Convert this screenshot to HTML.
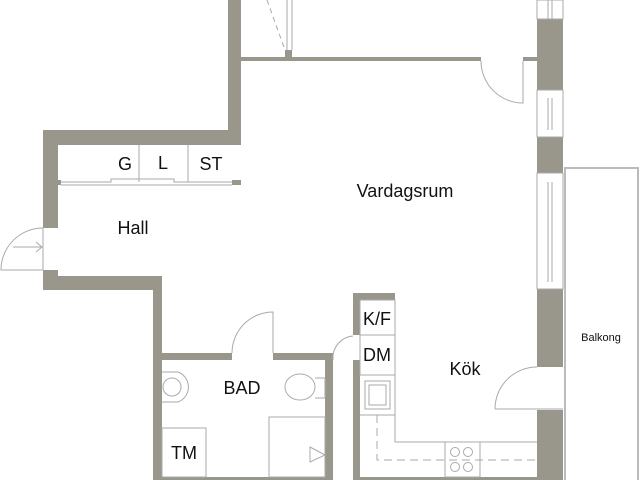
<!DOCTYPE html>
<html><head><meta charset="utf-8"><style>
html,body{margin:0;padding:0;background:#fff;}
svg{display:block;}
text{font-family:"Liberation Sans",sans-serif;fill:#111;}
</style></head><body>
<svg width="640" height="480" viewBox="0 0 640 480" xmlns="http://www.w3.org/2000/svg">
<g fill="#99968b">
<!-- top left vertical wall -->
<rect x="228" y="0" width="13" height="145"/>
<!-- top thin wall -->
<rect x="241" y="57" width="240" height="4"/>
<rect x="523" y="57" width="14" height="4"/>
<rect x="285" y="50" width="7" height="7"/>
<!-- hall upper wall -->
<rect x="43" y="130" width="198" height="15"/>
<rect x="43" y="130" width="15" height="98"/>
<rect x="58" y="180" width="3" height="5"/>
<rect x="232" y="180" width="9" height="5"/>
<!-- hall lower wall -->
<rect x="43" y="270" width="15" height="20"/>
<rect x="43" y="276" width="119" height="14"/>
<rect x="148" y="276" width="14" height="14"/>
<rect x="153" y="276" width="9" height="204"/>
<!-- bath walls -->
<rect x="162" y="353" width="70" height="7"/>
<rect x="273" y="353" width="60" height="7"/>
<rect x="325" y="353" width="8" height="127"/>
<rect x="162" y="477" width="171" height="3"/>
<!-- kitchen walls -->
<rect x="353" y="293" width="42" height="7"/>
<rect x="353" y="293" width="7" height="42"/>
<rect x="353" y="360" width="7" height="120"/>
<rect x="360" y="477" width="177" height="3"/>
<!-- right wall -->
<rect x="537" y="19" width="26" height="71"/>
<rect x="537" y="137" width="26" height="36"/>
<rect x="537" y="289" width="26" height="78"/>
<rect x="537" y="410" width="26" height="70"/>
</g>
<g fill="none" stroke="#aaa" stroke-width="1">
<!-- windows -->
<rect x="537" y="0" width="26" height="19"/>
<line x1="548" y1="0" x2="548" y2="19"/><line x1="552" y1="0" x2="552" y2="19"/>
<rect x="537" y="90" width="26" height="47"/>
<line x1="548" y1="98" x2="548" y2="130"/><line x1="552" y1="98" x2="552" y2="130"/>
<rect x="537" y="173" width="26" height="116"/>
<line x1="548" y1="182" x2="548" y2="282"/><line x1="552" y1="182" x2="552" y2="282"/>
<!-- balcony -->
<rect x="565" y="168" width="73" height="320" stroke="#bbb" stroke-width="2"/>
<!-- top door -->
<line x1="267" y1="0" x2="285" y2="50" stroke-dasharray="5,4"/>
<line x1="287" y1="0" x2="287" y2="50"/><line x1="292" y1="0" x2="292" y2="50"/>
<!-- vardagsrum door -->
<path d="M481 61 A42 42 0 0 0 523 103 L523 61"/>
<!-- closet -->
<line x1="139" y1="145" x2="139" y2="182"/>
<line x1="188" y1="145" x2="188" y2="182"/>
<path d="M61 182 H111 V179 H174 V182 H232"/>
<path d="M61 185 H232"/>
<!-- entrance door -->
<path d="M1 270 A42 42 0 0 1 43 228 L43 270 Z"/>
<path d="M13 247 H42 M36 242 L42 247 L36 252"/>
<!-- bath door -->
<path d="M232 353 A41 41 0 0 1 273 312 L273 353"/>
<!-- kitchen door -->
<path d="M333 360 A22 22 0 0 1 353 336"/>
<!-- balcony door -->
<path d="M495 409 A42 42 0 0 1 537 367 M495 409 H563"/>
<!-- kitchen cabinets -->
<rect x="360" y="300" width="35" height="35"/>
<rect x="360" y="335" width="35" height="40"/>
<path d="M360 415 H395 M395 300 V442 H537"/>
<rect x="365" y="381" width="25" height="28"/>
<rect x="369" y="385" width="17" height="20"/>
<path d="M377 415 V460 H537" stroke-dasharray="8,5"/>
<rect x="445" y="442" width="35" height="35"/>
<circle cx="455" cy="452" r="4.5"/><circle cx="468" cy="452" r="4.5"/>
<circle cx="455" cy="467" r="4.5"/><circle cx="468" cy="467" r="4.5"/>
<!-- bath fixtures -->
<path d="M162 372 H178 A16 16 0 0 1 178 402 H162"/>
<circle cx="172" cy="387" r="9"/>
<ellipse cx="300" cy="387" rx="15" ry="13"/>
<path d="M315 378 H325 V398 H315"/>
<rect x="162" y="428" width="44" height="49"/>
<rect x="269" y="417" width="56" height="60"/>
<path d="M310 447 L325 455 L310 462 Z"/>
</g>
<text x="125" y="170" font-size="18" text-anchor="middle">G</text>
<text x="163" y="169" font-size="18" text-anchor="middle">L</text>
<text x="211" y="170" font-size="18" text-anchor="middle">ST</text>
<text x="133" y="234" font-size="18" text-anchor="middle">Hall</text>
<text x="405" y="197" font-size="18" text-anchor="middle">Vardagsrum</text>
<text x="377" y="325" font-size="18" text-anchor="middle">K/F</text>
<text x="377" y="361" font-size="18" text-anchor="middle">DM</text>
<text x="465" y="375" font-size="18" text-anchor="middle">Kök</text>
<text x="242" y="394" font-size="18" text-anchor="middle">BAD</text>
<text x="184" y="459" font-size="18" text-anchor="middle">TM</text>
<text x="601" y="341" font-size="11" text-anchor="middle">Balkong</text>
</svg>
</body></html>
